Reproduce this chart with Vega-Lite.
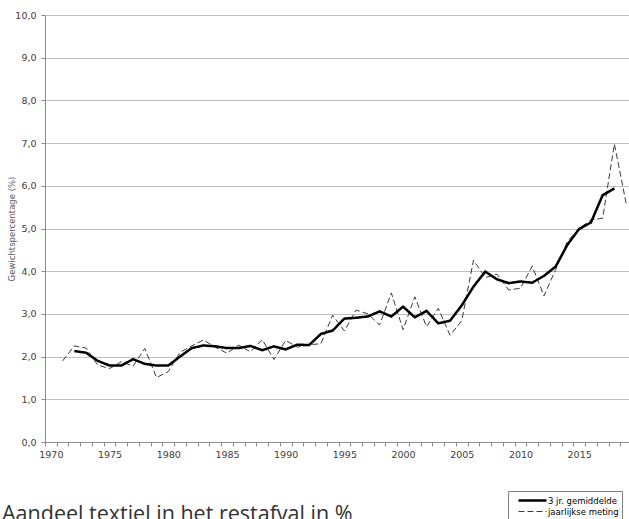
{
  "$schema": "https://vega.github.io/schema/vega-lite/v6.json",
  "width": 587,
  "height": 427,
  "autosize": {"type": "none"},
  "padding": {"left": 45, "top": 15, "right": 0, "bottom": 77},
  "background": "#ffffff",
  "title": {
    "text": "Aandeel textiel in het restafval in %",
    "orient": "bottom",
    "anchor": "start",
    "frame": "group",
    "baseline": "alphabetic",
    "offset": 39,
    "dy": -38,
    "dx": -43,
    "font": "Open Sans",
    "fontSize": 21.5,
    "fontWeight": "normal",
    "color": "#333333"
  },
  "data": {
    "values": [
      {"year": 1971, "series": "jaarlijkse meting", "value": 1.9},
      {"year": 1972, "series": "jaarlijkse meting", "value": 2.25},
      {"year": 1973, "series": "jaarlijkse meting", "value": 2.2},
      {"year": 1974, "series": "jaarlijkse meting", "value": 1.8},
      {"year": 1975, "series": "jaarlijkse meting", "value": 1.72},
      {"year": 1976, "series": "jaarlijkse meting", "value": 1.88},
      {"year": 1977, "series": "jaarlijkse meting", "value": 1.78},
      {"year": 1978, "series": "jaarlijkse meting", "value": 2.19},
      {"year": 1979, "series": "jaarlijkse meting", "value": 1.51},
      {"year": 1980, "series": "jaarlijkse meting", "value": 1.65},
      {"year": 1981, "series": "jaarlijkse meting", "value": 2.1},
      {"year": 1982, "series": "jaarlijkse meting", "value": 2.25},
      {"year": 1983, "series": "jaarlijkse meting", "value": 2.39},
      {"year": 1984, "series": "jaarlijkse meting", "value": 2.22},
      {"year": 1985, "series": "jaarlijkse meting", "value": 2.08},
      {"year": 1986, "series": "jaarlijkse meting", "value": 2.27},
      {"year": 1987, "series": "jaarlijkse meting", "value": 2.11},
      {"year": 1988, "series": "jaarlijkse meting", "value": 2.4},
      {"year": 1989, "series": "jaarlijkse meting", "value": 1.93},
      {"year": 1990, "series": "jaarlijkse meting", "value": 2.38},
      {"year": 1991, "series": "jaarlijkse meting", "value": 2.22},
      {"year": 1992, "series": "jaarlijkse meting", "value": 2.28},
      {"year": 1993, "series": "jaarlijkse meting", "value": 2.3},
      {"year": 1994, "series": "jaarlijkse meting", "value": 2.97},
      {"year": 1995, "series": "jaarlijkse meting", "value": 2.6},
      {"year": 1996, "series": "jaarlijkse meting", "value": 3.09},
      {"year": 1997, "series": "jaarlijkse meting", "value": 3.0},
      {"year": 1998, "series": "jaarlijkse meting", "value": 2.74},
      {"year": 1999, "series": "jaarlijkse meting", "value": 3.49},
      {"year": 2000, "series": "jaarlijkse meting", "value": 2.63},
      {"year": 2001, "series": "jaarlijkse meting", "value": 3.4},
      {"year": 2002, "series": "jaarlijkse meting", "value": 2.7},
      {"year": 2003, "series": "jaarlijkse meting", "value": 3.13},
      {"year": 2004, "series": "jaarlijkse meting", "value": 2.5},
      {"year": 2005, "series": "jaarlijkse meting", "value": 2.84},
      {"year": 2006, "series": "jaarlijkse meting", "value": 4.26},
      {"year": 2007, "series": "jaarlijkse meting", "value": 3.85},
      {"year": 2008, "series": "jaarlijkse meting", "value": 3.93},
      {"year": 2009, "series": "jaarlijkse meting", "value": 3.56},
      {"year": 2010, "series": "jaarlijkse meting", "value": 3.6},
      {"year": 2011, "series": "jaarlijkse meting", "value": 4.12},
      {"year": 2012, "series": "jaarlijkse meting", "value": 3.42},
      {"year": 2013, "series": "jaarlijkse meting", "value": 4.04},
      {"year": 2014, "series": "jaarlijkse meting", "value": 4.7},
      {"year": 2015, "series": "jaarlijkse meting", "value": 5.0},
      {"year": 2016, "series": "jaarlijkse meting", "value": 5.2},
      {"year": 2017, "series": "jaarlijkse meting", "value": 5.24},
      {"year": 2018, "series": "jaarlijkse meting", "value": 6.98},
      {"year": 2019, "series": "jaarlijkse meting", "value": 5.59},
      {"year": 1972, "series": "3 jr. gemiddelde", "value": 2.13},
      {"year": 1973, "series": "3 jr. gemiddelde", "value": 2.09},
      {"year": 1974, "series": "3 jr. gemiddelde", "value": 1.9},
      {"year": 1975, "series": "3 jr. gemiddelde", "value": 1.79},
      {"year": 1976, "series": "3 jr. gemiddelde", "value": 1.79},
      {"year": 1977, "series": "3 jr. gemiddelde", "value": 1.94},
      {"year": 1978, "series": "3 jr. gemiddelde", "value": 1.83},
      {"year": 1979, "series": "3 jr. gemiddelde", "value": 1.79},
      {"year": 1980, "series": "3 jr. gemiddelde", "value": 1.79},
      {"year": 1981, "series": "3 jr. gemiddelde", "value": 2.0},
      {"year": 1982, "series": "3 jr. gemiddelde", "value": 2.2},
      {"year": 1983, "series": "3 jr. gemiddelde", "value": 2.26},
      {"year": 1984, "series": "3 jr. gemiddelde", "value": 2.24},
      {"year": 1985, "series": "3 jr. gemiddelde", "value": 2.2},
      {"year": 1986, "series": "3 jr. gemiddelde", "value": 2.2},
      {"year": 1987, "series": "3 jr. gemiddelde", "value": 2.25},
      {"year": 1988, "series": "3 jr. gemiddelde", "value": 2.15},
      {"year": 1989, "series": "3 jr. gemiddelde", "value": 2.24},
      {"year": 1990, "series": "3 jr. gemiddelde", "value": 2.17},
      {"year": 1991, "series": "3 jr. gemiddelde", "value": 2.28},
      {"year": 1992, "series": "3 jr. gemiddelde", "value": 2.27},
      {"year": 1993, "series": "3 jr. gemiddelde", "value": 2.53},
      {"year": 1994, "series": "3 jr. gemiddelde", "value": 2.61},
      {"year": 1995, "series": "3 jr. gemiddelde", "value": 2.89},
      {"year": 1996, "series": "3 jr. gemiddelde", "value": 2.91},
      {"year": 1997, "series": "3 jr. gemiddelde", "value": 2.94},
      {"year": 1998, "series": "3 jr. gemiddelde", "value": 3.06},
      {"year": 1999, "series": "3 jr. gemiddelde", "value": 2.94},
      {"year": 2000, "series": "3 jr. gemiddelde", "value": 3.17},
      {"year": 2001, "series": "3 jr. gemiddelde", "value": 2.92},
      {"year": 2002, "series": "3 jr. gemiddelde", "value": 3.07},
      {"year": 2003, "series": "3 jr. gemiddelde", "value": 2.78},
      {"year": 2004, "series": "3 jr. gemiddelde", "value": 2.84},
      {"year": 2005, "series": "3 jr. gemiddelde", "value": 3.2},
      {"year": 2006, "series": "3 jr. gemiddelde", "value": 3.64},
      {"year": 2007, "series": "3 jr. gemiddelde", "value": 3.99},
      {"year": 2008, "series": "3 jr. gemiddelde", "value": 3.81},
      {"year": 2009, "series": "3 jr. gemiddelde", "value": 3.72},
      {"year": 2010, "series": "3 jr. gemiddelde", "value": 3.76},
      {"year": 2011, "series": "3 jr. gemiddelde", "value": 3.73},
      {"year": 2012, "series": "3 jr. gemiddelde", "value": 3.89},
      {"year": 2013, "series": "3 jr. gemiddelde", "value": 4.11},
      {"year": 2014, "series": "3 jr. gemiddelde", "value": 4.62},
      {"year": 2015, "series": "3 jr. gemiddelde", "value": 4.99},
      {"year": 2016, "series": "3 jr. gemiddelde", "value": 5.14},
      {"year": 2017, "series": "3 jr. gemiddelde", "value": 5.78},
      {"year": 2018, "series": "3 jr. gemiddelde", "value": 5.94}
    ]
  },
  "mark": {"type": "line", "strokeCap": "butt", "strokeJoin": "miter"},
  "encoding": {
    "x": {
      "field": "year",
      "type": "quantitative",
      "scale": {"domain": [1969.5, 2019.5], "nice": false, "zero": false},
      "axis": {
        "title": null,
        "grid": false,
        "values": [1969.5, 1970.5, 1971.5, 1972.5, 1973.5, 1974.5, 1975.5, 1976.5, 1977.5, 1978.5, 1979.5, 1980.5, 1981.5, 1982.5, 1983.5, 1984.5, 1985.5, 1986.5, 1987.5, 1988.5, 1989.5, 1990.5, 1991.5, 1992.5, 1993.5, 1994.5, 1995.5, 1996.5, 1997.5, 1998.5, 1999.5, 2000.5, 2001.5, 2002.5, 2003.5, 2004.5, 2005.5, 2006.5, 2007.5, 2008.5, 2009.5, 2010.5, 2011.5, 2012.5, 2013.5, 2014.5, 2015.5, 2016.5, 2017.5, 2018.5, 2019.5],
        "labelExpr": "((datum.value + 0.5) % 5 == 0 && datum.value < 2019) ? format(datum.value + 0.5, 'd') : ''",
        "labelOffset": 5.87,
        "labelPadding": 3,
        "labelFlush": false,
        "labelOverlap": false,
        "labelBound": false,
        "labelFont": "DejaVu Sans",
        "labelFontSize": 9.5,
        "labelColor": "#404040",
        "domainColor": "#8c8c8c",
        "tickColor": "#8c8c8c",
        "tickSize": 4
      }
    },
    "y": {
      "field": "value",
      "type": "quantitative",
      "scale": {"domain": [0, 10], "nice": false},
      "axis": {
        "title": "Gewichtspercentage (%)",
        "values": [0, 1, 2, 3, 4, 5, 6, 7, 8, 9, 10],
        "labelExpr": "replace(format(datum.value, '.1f'), '.', ',')",
        "grid": true,
        "gridColor": "#bfbfbf",
        "gridWidth": 1,
        "domainColor": "#8c8c8c",
        "tickColor": "#8c8c8c",
        "tickSize": 4,
        "labelPadding": 5,
        "labelFont": "DejaVu Sans",
        "labelFontSize": 9.5,
        "labelColor": "#404040",
        "titleFont": "DejaVu Sans",
        "titleFontSize": 8.5,
        "titleFontWeight": "normal",
        "titleColor": "#595959",
        "titlePadding": -2
      }
    },
    "color": {
      "field": "series",
      "type": "nominal",
      "scale": {"domain": ["3 jr. gemiddelde", "jaarlijkse meting"], "range": ["#000000", "#3a3a3a"]},
      "legend": {"orient": "none", "legendX": 463, "legendY": 476, "title": null, "symbolType": "M0.2,0H5.8", "symbolSize": 100, "labelFont": "DejaVu Sans", "labelFontSize": 8.5, "labelColor": "#000000", "labelExpr": "datum.label + '                '", "strokeColor": "#808080", "fillColor": "#ffffff", "padding": 3, "rowPadding": -1, "labelOffset": 24}
    },
    "strokeDash": {
      "field": "series",
      "type": "nominal",
      "scale": {"domain": ["3 jr. gemiddelde", "jaarlijkse meting"], "range": [[1, 0], [6, 3]]},
      "legend": {"orient": "none", "legendX": 463, "legendY": 476, "title": null, "symbolType": "M0.2,0H5.8", "symbolSize": 100, "labelFont": "DejaVu Sans", "labelFontSize": 8.5, "labelColor": "#000000", "labelExpr": "datum.label + '                '", "strokeColor": "#808080", "fillColor": "#ffffff", "padding": 3, "rowPadding": -1, "labelOffset": 24}
    },
    "strokeWidth": {
      "field": "series",
      "type": "nominal",
      "scale": {"domain": ["3 jr. gemiddelde", "jaarlijkse meting"], "range": [2.5, 1]},
      "legend": {"orient": "none", "legendX": 463, "legendY": 476, "title": null, "symbolType": "M0.2,0H5.8", "symbolSize": 100, "labelFont": "DejaVu Sans", "labelFontSize": 8.5, "labelColor": "#000000", "labelExpr": "datum.label + '                '", "strokeColor": "#808080", "fillColor": "#ffffff", "padding": 3, "rowPadding": -1, "labelOffset": 24}
    }
  },
  "config": {
    "view": {"stroke": null}
  }
}
